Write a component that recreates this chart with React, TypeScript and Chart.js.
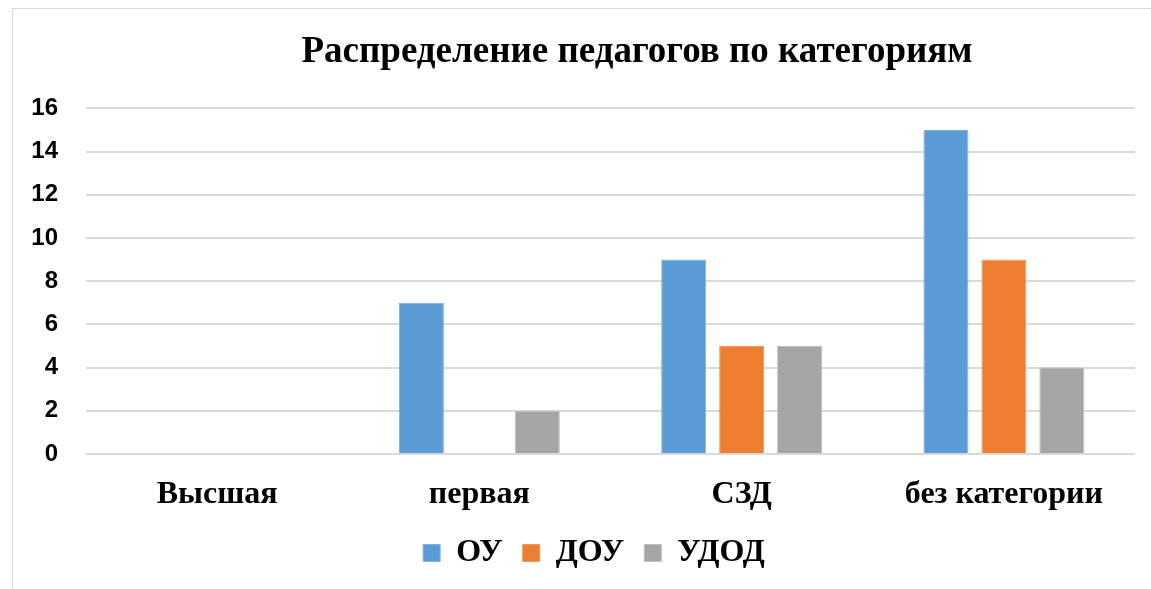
import React, { useEffect, useRef } from "react";
import { Chart, registerables } from "chart.js";

Chart.register(...registerables);

const categories = ["Высшая", "первая", "СЗД", "без категории"];
const seriesOU = [0, 7, 9, 15];
const seriesDOU = [0, 0, 5, 9];
const seriesUDOD = [0, 2, 5, 4];
const seriesNames = ["ОУ", "ДОУ", "УДОД"];
const titleText = "Распределение педагогов по категориям";

const colors = ["#5B9BD5", "#ED7D31", "#A5A5A5"];
const borderColors = ["#7FB0DE", "#F29A5E", "#BDBDBD"];

const SERIF = "'Liberation Serif', 'Times New Roman', serif";
const SANS = "'Liberation Sans', Arial, sans-serif";

const TITLE_SHIFT = 54;
const LEGEND_SHIFT = 11;

const shiftPlugin = {
  id: "shiftBoxes",
  afterLayout(chart: any) {
    if (chart.titleBlock) {
      chart.titleBlock.left += TITLE_SHIFT;
      chart.titleBlock.right += TITLE_SHIFT;
    }
    if (chart.legend) {
      chart.legend.left += LEGEND_SHIFT;
      chart.legend.right += LEGEND_SHIFT;
    }
  },
};

export default function App() {
  const ref = useRef<HTMLCanvasElement | null>(null);

  useEffect(() => {
    if (!ref.current) return;
    const series = [seriesOU, seriesDOU, seriesUDOD];
    const chart = new Chart(ref.current, {
      type: "bar",
      data: {
        labels: categories,
        datasets: series.map((d, i) => ({
          label: seriesNames[i],
          data: d,
          backgroundColor: colors[i],
          borderColor: borderColors[i],
          borderWidth: 1,
          categoryPercentage: 0.663,
          barPercentage: 0.776,
        })),
      },
      options: {
        animation: false,
        responsive: false,
        maintainAspectRatio: false,
        layout: { padding: { left: 18, right: 16, top: 0, bottom: 10 } },
        plugins: {
          title: {
            display: true,
            text: titleText,
            color: "#000",
            font: { family: SERIF, size: 37, weight: "bold", lineHeight: 1.2 },
            padding: { top: 21, bottom: 34 },
          },
          legend: {
            position: "bottom",
            labels: {
              color: "#000",
              boxWidth: 17,
              boxHeight: 17,
              padding: 20,
              font: { family: SERIF, size: 32, weight: "bold" },
            },
          },
          tooltip: { enabled: false },
        },
        scales: {
          x: {
            grid: { display: false },
            border: { display: false },
            ticks: {
              color: "#000",
              padding: 14,
              font: { family: SERIF, size: 32, weight: "bold" },
            },
            afterFit(scale: any) {
              scale.height = 63;
            },
          },
          y: {
            min: 0,
            max: 16,
            border: { display: false },
            grid: { color: "#D9D9D9", lineWidth: 2, drawTicks: false },
            ticks: {
              stepSize: 2,
              color: "#000",
              padding: 28,
              font: { family: SANS, size: 24, weight: "bold" },
            },
            afterFit(scale: any) {
              scale.width = 55;
            },
          },
        },
      },
      plugins: [shiftPlugin],
    });
    return () => chart.destroy();
  }, []);

  return (
    <div
      style={{
        position: "fixed",
        left: 12,
        top: 8,
        width: 1139,
        height: 581,
        borderLeft: "1px solid #D9D9D9",
        borderTop: "1px solid #D9D9D9",
        background: "#fff",
      }}
    >
      <canvas ref={ref} width={1138} height={580} style={{ display: "block" }} />
    </div>
  );
}
